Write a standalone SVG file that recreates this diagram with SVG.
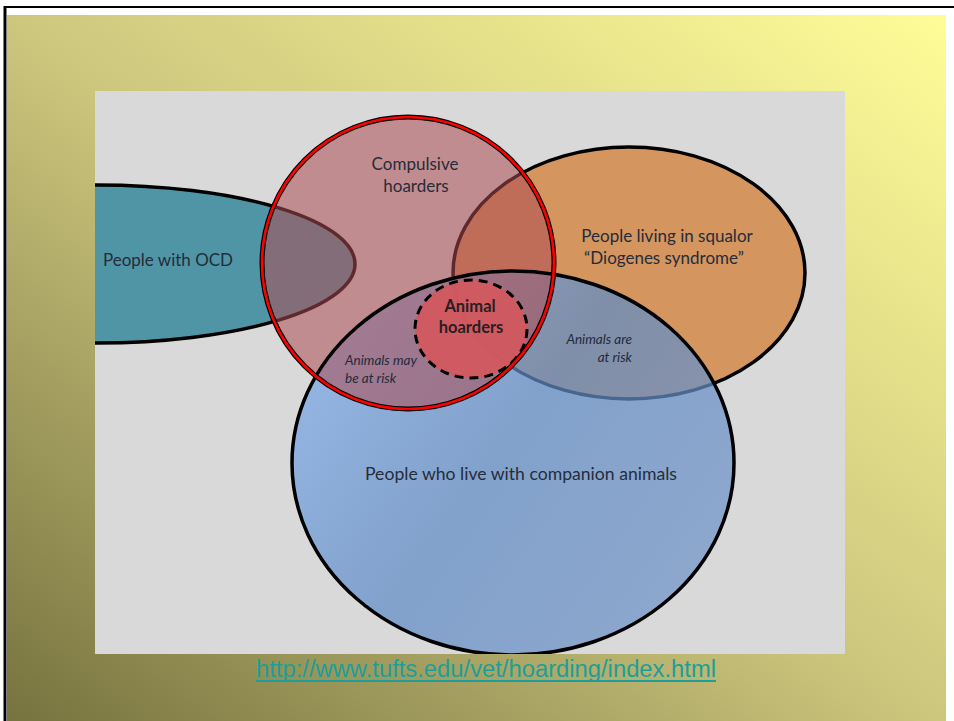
<svg xmlns="http://www.w3.org/2000/svg" width="954" height="721" viewBox="0 0 954 721">
  <defs>
    <linearGradient id="slideBg" x1="0" y1="1" x2="1" y2="0">
      <stop offset="0" stop-color="#77733f"/>
      <stop offset="0.5" stop-color="#cdc77e"/>
      <stop offset="1" stop-color="#fefd98"/>
    </linearGradient>
    <linearGradient id="blueFill" x1="0" y1="0" x2="1" y2="0.6">
      <stop offset="0" stop-color="#82aef0"/>
      <stop offset="0.55" stop-color="#5f8cc6"/>
      <stop offset="1" stop-color="#6f93c8"/>
    </linearGradient>
    <clipPath id="panelClip">
      <rect x="95" y="91" width="750" height="563"/>
    </clipPath>
    <style>
      .lbl { font-family: Lato, "Open Sans", "DejaVu Sans", sans-serif; font-size: 17px; fill: #262c3a; }
      .bold { font-weight: bold; font-size: 16.5px; fill: #2a1e22; }
      .small { font-style: italic; font-size: 13.5px; fill: #232a3c; }
      .outline { fill: none; stroke: #000; stroke-width: 3.5; }
    </style>
  </defs>

  <!-- slide frame -->
  <rect x="0" y="0" width="954" height="721" fill="#ffffff"/>
  <rect x="7" y="15" width="939" height="706" fill="url(#slideBg)"/>
  <line x1="4" y1="7" x2="954" y2="7" stroke="#000" stroke-width="2"/>
  <line x1="5" y1="6" x2="5" y2="721" stroke="#000" stroke-width="3"/>

  <!-- diagram panel -->
  <rect x="95" y="91" width="750" height="563" fill="#d9d9d9"/>

  <g clip-path="url(#panelClip)">
    <g id="ocd">
      <ellipse cx="97" cy="264" rx="258" ry="79" fill="#4f95a6" stroke="#000" stroke-width="3.5"/>
    </g>
    <g id="squalor">
      <ellipse cx="629" cy="273" rx="176" ry="126" fill="#d4955f" stroke="#000" stroke-width="3.5"/>
    </g>
    <g id="companion">
      <ellipse cx="513" cy="463" rx="221" ry="192" fill="url(#blueFill)" fill-opacity="0.72"/>
    </g>
    <g id="compulsive">
      <circle cx="408" cy="263" r="146" fill="#ad4d52" fill-opacity="0.55"/>
    </g>
    <!-- outline of the companion-animals set drawn over the overlaps -->
    <ellipse class="outline" cx="513" cy="463" rx="221" ry="192"/>
    <g id="animal-hoarders">
      <ellipse cx="471" cy="329" rx="56" ry="49" fill="#d4585e" fill-opacity="0.92" stroke="#000" stroke-width="3" stroke-dasharray="9 6"/>
    </g>
    <!-- rim of the compulsive-hoarders set -->
    <circle cx="408" cy="263" r="146" fill="none" stroke="#000" stroke-width="5"/>
    <circle cx="408" cy="263" r="146" fill="none" stroke="#ff0000" stroke-width="2.6"/>
  </g>

  <!-- labels -->
  <g id="labels">
    <text class="lbl" x="103" y="266" textLength="130" lengthAdjust="spacingAndGlyphs">People with OCD</text>
    <text class="lbl" x="415" y="170" text-anchor="middle">Compulsive</text>
    <text class="lbl" x="416" y="192" text-anchor="middle">hoarders</text>
    <text class="lbl" x="667" y="242" text-anchor="middle">People living in squalor</text>
    <text class="lbl" x="664" y="264" text-anchor="middle">“Diogenes syndrome”</text>
    <text class="lbl bold" x="470" y="312" text-anchor="middle">Animal</text>
    <text class="lbl bold" x="471" y="333" text-anchor="middle">hoarders</text>
    <text class="lbl small" x="345" y="365">Animals may</text>
    <text class="lbl small" x="345" y="383">be at risk</text>
    <text class="lbl small" x="632" y="344" text-anchor="end">Animals are</text>
    <text class="lbl small" x="632" y="362" text-anchor="end">at risk</text>
    <text class="lbl" x="521" y="480" text-anchor="middle" textLength="312" lengthAdjust="spacingAndGlyphs">People who live with companion animals</text>
  </g>

  <!-- source link -->
  <g id="source">
    <text x="256" y="677" font-family="'Liberation Sans', Arial, sans-serif" font-size="23.5" fill="#1c9f9b" textLength="460" lengthAdjust="spacingAndGlyphs">http://www.tufts.edu/vet/hoarding/index.html</text>
    <line x1="256" y1="681" x2="716" y2="681" stroke="#1c9f9b" stroke-width="2"/>
  </g>
</svg>
